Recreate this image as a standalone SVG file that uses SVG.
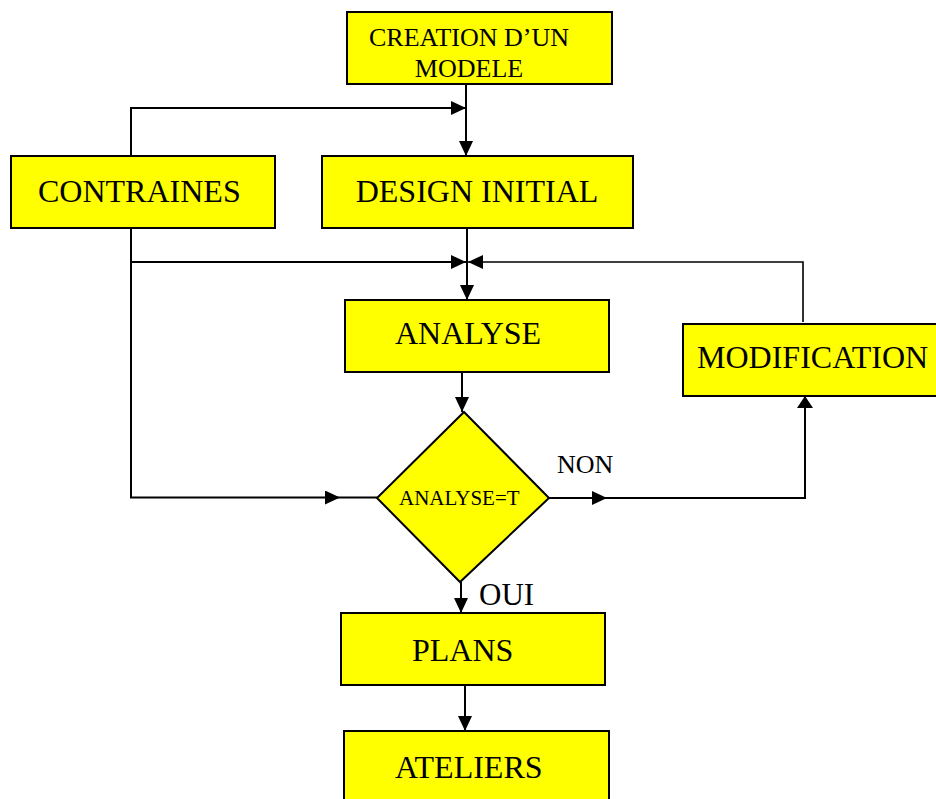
<svg xmlns="http://www.w3.org/2000/svg" width="936" height="799" viewBox="0 0 936 799">
<style>
.box{fill:#FFFF00;stroke:#000;stroke-width:2}
.t{font-family:"Liberation Serif","Times New Roman",serif;fill:#000}
.c{fill:none;stroke:#000;stroke-width:2}
</style>
<defs>
<marker id="ah" markerUnits="userSpaceOnUse" markerWidth="16" markerHeight="14" refX="15" refY="7" orient="auto" viewBox="0 0 16 14">
<path d="M0,0 L15,7 L0,14 z" fill="#000"/>
</marker>
<marker id="ahs" markerUnits="userSpaceOnUse" markerWidth="13" markerHeight="16" refX="12" refY="8" orient="auto" viewBox="0 0 13 16">
<path d="M0,0 L12,8 L0,16 z" fill="#000"/>
</marker>
</defs>
<rect width="936" height="799" fill="#fff"/>
<g id="connectors">
<path class="c" d="M466,84 V156" marker-end="url(#ah)"/>
<path class="c" d="M131,156 V108 H466" marker-end="url(#ah)"/>
<path class="c" d="M467,228 V300" marker-end="url(#ah)"/>
<path class="c" d="M131,228 V262 H466" marker-end="url(#ah)"/>
<path class="c" d="M803,322 V262 H468" marker-end="url(#ah)" style="stroke-width:1.6"/>
<path class="c" d="M131,262 V497.5 H340" marker-end="url(#ah)"/>
<path class="c" d="M340,497.5 H377"/>
<path class="c" d="M462,372 V412" marker-end="url(#ah)"/>
<path class="c" d="M549,498 H607" marker-end="url(#ah)"/>
<path class="c" d="M607,498 H805 V396" marker-end="url(#ahs)"/>
<path class="c" d="M461,582 V613" marker-end="url(#ah)"/>
<path class="c" d="M465,685 V731" marker-end="url(#ah)"/>
</g>
<g id="creation">
<rect class="box" x="347" y="12" width="265" height="72"/>
<text class="t" x="469" y="46" font-size="26" text-anchor="middle">CREATION D’UN</text>
<text class="t" x="469" y="77" font-size="26" text-anchor="middle">MODELE</text>
</g>
<g id="contraines">
<rect class="box" x="11" y="156" width="264" height="72"/>
<text class="t" x="38" y="202" font-size="32">CONTRAINES</text>
</g>
<g id="design">
<rect class="box" x="322" y="156" width="311" height="72"/>
<text class="t" x="477" y="202" font-size="32" text-anchor="middle">DESIGN INITIAL</text>
</g>
<g id="analyse">
<rect class="box" x="345" y="300" width="264" height="72"/>
<text class="t" x="395" y="344" font-size="32">ANALYSE</text>
</g>
<g id="modification">
<rect class="box" x="683" y="324" width="260" height="72"/>
<text class="t" x="697" y="368" font-size="32">MODIFICATION</text>
</g>
<g id="decision">
<polygon class="box" points="464,412 549,498 460,582 377,498"/>
<text class="t" x="399" y="505" font-size="21">ANALYSE=T</text>
</g>
<g id="labels">
<text class="t" x="557" y="473" font-size="26">NON</text>
<text class="t" x="479" y="605" font-size="31">OUI</text>
</g>
<g id="plans">
<rect class="box" x="341" y="613" width="264" height="72"/>
<text class="t" x="412" y="661" font-size="32">PLANS</text>
</g>
<g id="ateliers">
<rect class="box" x="344" y="731" width="265" height="72"/>
<text class="t" x="395" y="778" font-size="32">ATELIERS</text>
</g>
</svg>
